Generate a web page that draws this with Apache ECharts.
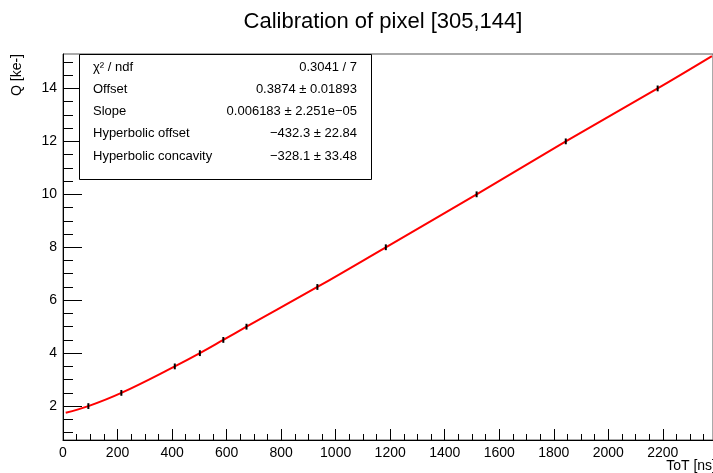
<!DOCTYPE html>
<html>
<head>
<meta charset="utf-8">
<script src="https://cdn.jsdelivr.net/npm/echarts@6/dist/echarts.min.js"></script>
<style>html,body{margin:0;padding:0;background:#fff}#c{width:713px;height:473px}</style>
</head>
<body>
<div id="c"></div>
<script>
// ---- data ----
const totValues    = [93, 214, 410, 502, 588, 673, 933, 1184, 1517, 1844, 2181];
const chargeValues = [2.0, 2.5, 3.5, 4.0, 4.5, 5.0, 6.5, 8.0, 10.0, 12.0, 14.0];
const chargeErrors = [0.11, 0.11, 0.11, 0.11, 0.11, 0.11, 0.11, 0.11, 0.11, 0.11, 0.11];

const fitTot    = [10, 93, 214, 410, 502, 588, 673, 933, 1184, 1517, 1844, 2181, 2380];
const fitCharge = [1.75, 2.0, 2.5, 3.5, 4.0, 4.5, 5.0, 6.5, 8.0, 10.0, 12.0, 14.0, 15.22];

const xMajorTicks = [0, 200, 400, 600, 800, 1000, 1200, 1400, 1600, 1800, 2000, 2200];
const yMajorTicks = [2, 4, 6, 8, 10, 12, 14];

const statNames  = ["χ² / ndf", "Offset", "Slope", "Hyperbolic offset", "Hyperbolic concavity"];
const statValues = ["0.3041 / 7", "0.3874 ± 0.01893", "0.006183 ± 2.251e−05", "−432.3 ± 22.84", "−328.1 ± 33.48"];

const titleText = "Calibration of pixel [305,144]";
const xTitle = "ToT [ns]";
const yTitle = "Q [ke-]";

// ---- layout ----
const X_MIN = 0, X_MAX = 2384, Y_MIN = 0.72, Y_MAX = 15.3;
const xMinorTicks = [];
for (let v = 50; v < X_MAX; v += 50) if (v % 200 !== 0) xMinorTicks.push(v);
const yMinorTicks = [];
for (let v = 1.0; v < Y_MAX; v += 0.5) if (v % 2 !== 0) yMinorTicks.push(v);

const FONT = "'Liberation Sans', Arial, Helvetica, sans-serif";
const chart = echarts.init(document.getElementById('c'), null, {renderer: 'canvas'});

const pts = totValues.map((x, i) => [x, chargeValues[i], chargeErrors[i]]);
const fitPts = fitTot.map((x, i) => [x, fitCharge[i]]);

const graphics = [
  {type: 'text', x: 383, y: 22, style: {text: titleText, font: '22px ' + FONT, fill: '#000', align: 'center', verticalAlign: 'middle'}, z: 10},
  {type: 'text', x: 716, y: 466, style: {text: xTitle, font: '14px ' + FONT, fill: '#000', align: 'right', verticalAlign: 'middle'}, z: 10},
  {type: 'text', x: 17, y: 54, rotation: Math.PI / 2, style: {text: yTitle, font: '14px ' + FONT, fill: '#000', align: 'right', verticalAlign: 'middle'}, z: 10},
  {type: 'rect', shape: {x: 79.5, y: 54.5, width: 292, height: 125}, style: {fill: '#fff', stroke: '#000', lineWidth: 1}, z: 20}
];
statNames.forEach((n, i) => {
  const y = 67 + i * 22.3;
  graphics.push({type: 'text', x: 93, y: y, style: {text: n, font: '13px ' + FONT, fill: '#000', align: 'left', verticalAlign: 'middle'}, z: 21});
  graphics.push({type: 'text', x: 357, y: y, style: {text: statValues[i], font: '13px ' + FONT, fill: '#000', align: 'right', verticalAlign: 'middle'}, z: 21});
});

const baseX = {type: 'value', min: X_MIN, max: X_MAX, position: 'bottom', offset: 0, splitLine: {show: false}};
const baseY = {type: 'value', min: Y_MIN, max: Y_MAX, position: 'left', offset: 0, splitLine: {show: false}};
const plain = v => String(v);

chart.setOption({
  animation: false,
  backgroundColor: '#fff',
  grid: {left: 63, top: 54, width: 652, height: 386, show: true, borderColor: '#555', borderWidth: 1, backgroundColor: 'transparent', containLabel: false},
  xAxis: [
    Object.assign({}, baseX, {
      axisLine: {show: true, lineStyle: {color: '#000', width: 1}},
      axisTick: {show: true, inside: true, length: 11, customValues: xMajorTicks, lineStyle: {color: '#000'}},
      axisLabel: {show: true, customValues: xMajorTicks, formatter: plain, fontSize: 14, fontFamily: FONT, color: '#000', margin: 6}
    }),
    Object.assign({}, baseX, {
      axisLine: {show: false},
      axisTick: {show: true, inside: true, length: 6, customValues: xMinorTicks, lineStyle: {color: '#000'}},
      axisLabel: {show: false}
    })
  ],
  yAxis: [
    Object.assign({}, baseY, {
      axisLine: {show: true, lineStyle: {color: '#000', width: 1}},
      axisTick: {show: true, inside: true, length: 19, customValues: yMajorTicks, lineStyle: {color: '#000'}},
      axisLabel: {show: true, customValues: yMajorTicks, formatter: plain, fontSize: 14, fontFamily: FONT, color: '#000', margin: 6}
    }),
    Object.assign({}, baseY, {
      axisLine: {show: false},
      axisTick: {show: true, inside: true, length: 10, customValues: yMinorTicks, lineStyle: {color: '#000'}},
      axisLabel: {show: false}
    })
  ],
  series: [
    {
      type: 'line', xAxisIndex: 0, yAxisIndex: 0, data: fitPts, smooth: 0.4,
      showSymbol: false, symbol: 'none', lineStyle: {color: '#ff0000', width: 2}, z: 3, clip: true
    },
    {
      type: 'custom', xAxisIndex: 0, yAxisIndex: 0, data: pts, z: 4,
      renderItem: function (params, api) {
        const x = api.value(0), y = api.value(1), e = api.value(2);
        const p1 = api.coord([x, y - e]);
        const p2 = api.coord([x, y + e]);
        return {type: 'line', shape: {x1: p1[0], y1: p1[1], x2: p2[0], y2: p2[1]}, style: {stroke: '#000', lineWidth: 2}};
      }
    }
  ],
  graphic: graphics
});
</script>
</body>
</html>
